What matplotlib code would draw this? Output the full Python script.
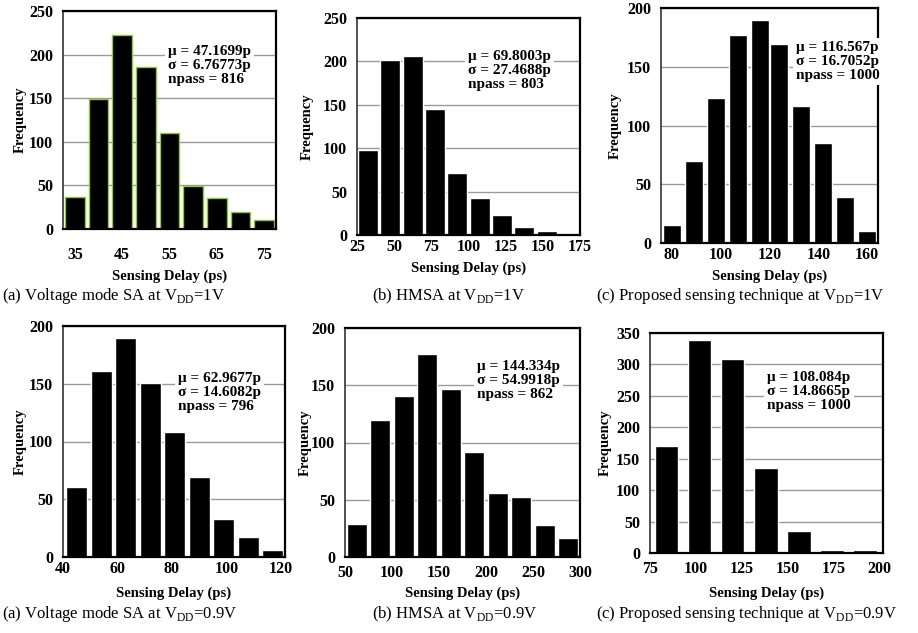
import matplotlib
matplotlib.use('Agg')
import matplotlib.pyplot as plt
import matplotlib.transforms as mtransforms

# ---- data ----
# (a) voltage mode SA, VDD=1V
a1_centers = [35, 40, 45, 50, 55, 60, 65, 70, 75]
a1_counts = [37, 149, 222, 186, 110, 49, 36, 20, 10]
a1_stats = ['\u03bc = 47.1699p', '\u03c3 = 6.76773p', 'npass = 816']

# (b) HMSA, VDD=1V
b1_centers = [32.5, 47.5, 62.5, 77.5, 92.5, 107.5, 122.5, 137.5, 152.5, 167.5]
b1_counts = [98, 202, 206, 145, 71, 43, 23, 9, 5, 2]
b1_stats = ['\u03bc = 69.8003p', '\u03c3 = 27.4688p', 'npass = 803']

# (c) proposed technique, VDD=1V
c1_centers = [80, 89, 98, 107, 116, 124, 133, 142, 151, 160]
c1_counts = [15, 70, 123, 177, 190, 169, 117, 85, 39, 10]
c1_stats = ['\u03bc = 116.567p', '\u03c3 = 16.7052p', 'npass = 1000']

# (a) voltage mode SA, VDD=0.9V
a2_centers = [45, 54, 63, 72, 81, 90, 99, 108, 117]
a2_counts = [61, 161, 190, 151, 108, 69, 33, 17, 6]
a2_stats = ['\u03bc = 62.9677p', '\u03c3 = 14.6082p', 'npass = 796']

# (b) HMSA, VDD=0.9V
b2_centers = [62.5, 87.5, 112.5, 137.5, 162.5, 187.5, 212.5, 237.5, 262.5, 287.5]
b2_counts = [29, 120, 141, 177, 147, 92, 56, 52, 28, 17]
b2_stats = ['\u03bc = 144.334p', '\u03c3 = 54.9918p', 'npass = 862']

# (c) proposed technique, VDD=0.9V
c2_centers = [84, 102, 120, 138, 156, 174, 192]
c2_counts = [170, 339, 308, 136, 35, 4, 4]
c2_stats = ['\u03bc = 108.084p', '\u03c3 = 14.8665p', 'npass = 1000']

captions = [
    '(a) Voltage mode SA at V$_{\\mathrm{DD}}$=1V',
    '(b) HMSA at V$_{\\mathrm{DD}}$=1V',
    '(c) Proposed sensing technique at V$_{\\mathrm{DD}}$=1V',
    '(a) Voltage mode SA at V$_{\\mathrm{DD}}$=0.9V',
    '(b) HMSA at V$_{\\mathrm{DD}}$=0.9V',
    '(c) Proposed sensing technique at V$_{\\mathrm{DD}}$=0.9V',
]

plt.rcParams['font.family'] = 'Liberation Serif'
plt.rcParams['mathtext.fontset'] = 'custom'
plt.rcParams['mathtext.rm'] = 'Liberation Serif'

W, H = 918, 633
fig = plt.figure(figsize=(W / 100, H / 100), dpi=100)

# panel boxes in pixels: left, right, top, bottom
# plus xlim, xticks, ylim, bar width, edge colour, stats pos, xlabel y, tick pad, ylabel x
panels = [
    dict(box=(63, 276, 11, 229), c=a1_centers, n=a1_counts, s=a1_stats,
         xlim=(32.5, 77.5), xt=[35, 45, 55, 65, 75], ymax=250, w=4.2, ec='#8dc63f',
         txt=(168, 45), xl=276, pad=13, yl=20),
    dict(box=(357, 580, 18, 235), c=b1_centers, n=b1_counts, s=b1_stats,
         xlim=(25, 175), xt=[25, 50, 75, 100, 125, 150, 175], ymax=250, w=13.5, ec='white',
         txt=(468, 50), xl=268, pad=3, yl=307),
    dict(box=(661, 878, 8, 243), c=c1_centers, n=c1_counts, s=c1_stats,
         xlim=(75.5, 164.5), xt=[80, 100, 120, 140, 160], ymax=200, w=7.4, ec='white',
         txt=(796, 41), xl=276, pad=3, yl=615),
    dict(box=(63, 285, 326, 557), c=a2_centers, n=a2_counts, s=a2_stats,
         xlim=(40.5, 121.5), xt=[40, 60, 80, 100, 120], ymax=200, w=7.8, ec='white',
         txt=(178, 372), xl=593, pad=3, yl=20),
    dict(box=(345, 580, 328, 557), c=b2_centers, n=b2_counts, s=b2_stats,
         xlim=(50, 300), xt=[50, 100, 150, 200, 250, 300], ymax=200, w=21.5, ec='white',
         txt=(477, 360), xl=593, pad=6, yl=305),
    dict(box=(650, 883, 333, 553), c=c2_centers, n=c2_counts, s=c2_stats,
         xlim=(75, 202), xt=[75, 100, 125, 150, 175, 200], ymax=350, w=13, ec='white',
         txt=(767, 371), xl=593, pad=6, yl=605),
]

bold = dict(fontweight='bold', fontsize=10.5)

for p in panels:
    l, r, t, b = p['box']
    ax = fig.add_axes([l / W, 1 - b / H, (r - l) / W, (b - t) / H])
    ax.bar(p['c'], p['n'], width=p['w'], color='black', edgecolor=p['ec'], linewidth=1, zorder=2)
    ax.set_xlim(*p['xlim'])
    ax.set_ylim(0, p['ymax'])
    ax.set_xticks(p['xt'])
    ax.set_yticks(range(0, p['ymax'] + 1, 50))
    ax.yaxis.grid(True, color='#9a9a9a', linewidth=1, zorder=0)
    ax.set_axisbelow(True)
    ax.tick_params(length=0, labelsize=11.5, pad=p['pad'])
    ax.tick_params(axis='y', pad=7)
    for lab in ax.get_xticklabels() + ax.get_yticklabels():
        lab.set_fontweight('bold')
    for side in ['top', 'right', 'bottom']:
        ax.spines[side].set_linewidth(1.6)
    ax.spines['left'].set_linewidth(1.2)
    ax.spines['left'].set_color('#333333')

    ax.set_xlabel('Sensing Delay (ps)', **bold)
    ax.set_ylabel('Frequency', **bold)
    ax.xaxis.set_label_coords(0.5, 1 - p['xl'] / H,
                              transform=mtransforms.blended_transform_factory(ax.transAxes, fig.transFigure))
    ax.yaxis.set_label_coords(p['yl'] / W, 0.5,
                              transform=mtransforms.blended_transform_factory(fig.transFigure, ax.transAxes))
    ax.xaxis.label.set_va('center')
    ax.yaxis.label.set_va('center')

    # statistics box
    tx, ty = p['txt']
    fig.text(tx / W, 1 - ty / H, '\n'.join(p['s']), ha='left', va='top',
             fontweight='bold', fontsize=11, linespacing=1.12,
             bbox=dict(facecolor='white', edgecolor='none', pad=2), zorder=5)

# captions under each row
cap_x = [2, 372, 596]
cap_y = [296, 614]
for i, cap in enumerate(captions):
    fig.text(cap_x[i % 3] / W, 1 - cap_y[i // 3] / H, cap, ha='left', va='center', fontsize=12)

fig.savefig('out.png', dpi=100)
